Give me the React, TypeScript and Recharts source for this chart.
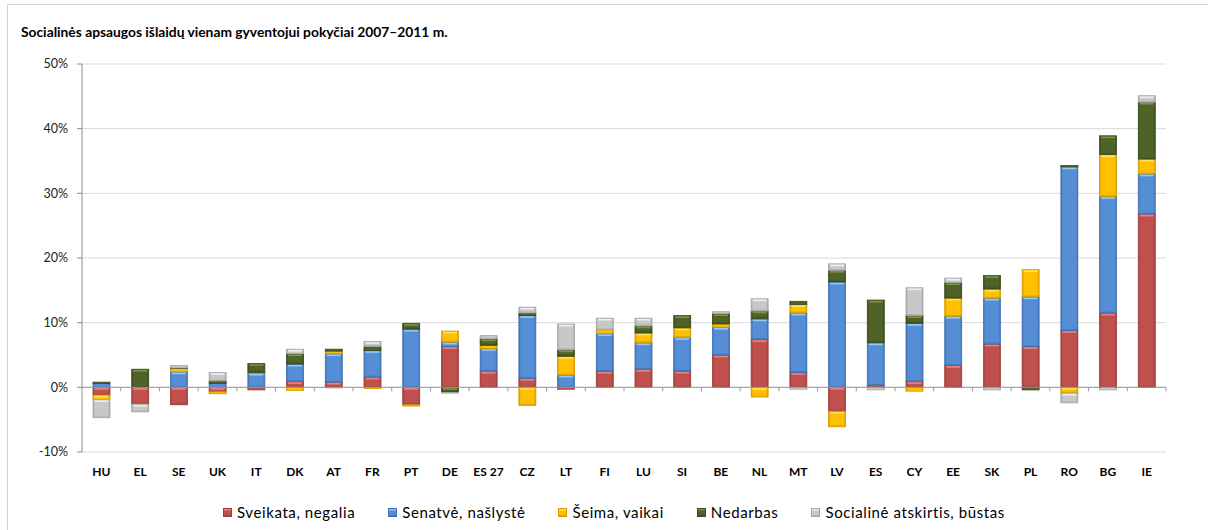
import React from "react"
import {
  BarChart,
  Bar,
  XAxis,
  YAxis,
  CartesianGrid,
  ReferenceLine,
} from "recharts"

const CATEGORIES = [
  "HU", "EL", "SE", "UK", "IT", "DK", "AT", "FR", "PT", "DE", "ES 27", "CZ", "LT", "FI",
  "LU", "SI", "BE", "NL", "MT", "LV", "ES", "CY", "EE", "SK", "PL", "RO", "BG", "IE",
]

// pokytis, %
const SVEIKATA = [
  -1.2, -2.6, -2.7, -0.7, -0.4, 0.9, 0.8, 1.6, -2.7, 6.3, 2.5, 1.4, -0.3, 2.5,
  2.8, 2.5, 5.0, 7.4, 2.3, -3.7, 0.3, 0.9, 3.4, 6.7, 6.3, 8.8, 11.5, 26.8,
]
const SENATVE = [
  0.6, 0, 2.4, 0.6, 2.2, 2.7, 4.4, 4.1, 9.0, 0.7, 3.5, 9.7, 1.9, 5.8,
  4.1, 5.2, 4.3, 3.2, 9.2, 16.3, 6.6, 9.0, 7.6, 7.1, 7.7, 25.3, 18.0, 6.2,
]
const SEIMA = [
  -0.7, 0, 0.5, -0.3, 0.1, -0.5, 0.4, -0.2, -0.2, 1.7, 0.5, -2.8, 2.9, 0.6,
  1.5, 1.5, 0.5, -1.5, 1.3, -2.4, 0, -0.6, 2.8, 1.4, 4.2, -0.9, 6.5, 2.3,
]
const NEDARBAS = [
  0.2, 2.8, 0.1, 0.4, 1.4, 1.6, 0.3, 0.6, 0.9, -0.8, 1.0, 0.4, 1.0, 0,
  1.1, 1.9, 1.6, 1.2, 0.5, 1.8, 6.6, 1.2, 2.4, 2.1, -0.4, 0.2, 2.9, 8.8,
]
const ATSKIRTIS = [
  -2.8, -1.2, 0.4, 1.3, 0, 0.7, -0.1, 0.8, 0, -0.1, 0.5, 0.9, 4.0, 1.8,
  1.2, 0, 0.3, 1.9, -0.3, 1.0, -0.4, 4.3, 0.7, -0.4, 0, -1.5, -0.4, 1.0,
]

const Y_TICKS = [-10, 0, 10, 20, 30, 40, 50]

const SERIES = [
  { key: "sveikata", name: "Sveikata, negalia", color: "#c0504d", dark: "#9c3e3b", light: "#e58c8a", values: SVEIKATA },
  { key: "senatve", name: "Senatvė, našlystė", color: "#558ed5", dark: "#3f72b3", light: "#9fd0f5", values: SENATVE },
  { key: "seima", name: "Šeima, vaikai", color: "#ffc000", dark: "#d49c00", light: "#ffe36b", values: SEIMA },
  { key: "nedarbas", name: "Nedarbas", color: "#4f6228", dark: "#3b4a1d", light: "#7f9a48", values: NEDARBAS },
  { key: "atskirtis", name: "Socialinė atskirtis, būstas", color: "#c8c8c8", dark: "#a6a6a6", light: "#f2f2f2", values: ATSKIRTIS },
]

const data = CATEGORIES.map((cat, i) => {
  const row: Record<string, string | number> = { cat }
  SERIES.forEach((s) => {
    row[s.key] = s.values[i]
  })
  return row
})

const FONT = "Lato, 'Open Sans', sans-serif"

// Excel-style bevelled segment
function BevelBar(props: any) {
  const { x, y, width, height, dark, light, gid } = props
  if (!width || !height) return null
  const top = Math.min(y, y + height)
  const h = Math.abs(height)
  if (h < 0.5) return null
  return (
    <g>
      <rect x={x} y={top} width={width} height={h} fill={`url(#${gid})`} stroke={dark} strokeWidth={0.8} />
      {h > 4 && (
        <rect x={x + 1.5} y={top + 0.8} width={width - 3} height={1.6} fill={light} opacity={0.9} />
      )}
      {h > 5 && (
        <rect x={x + 0.5} y={top + h - 1.4} width={width - 1} height={1} fill={dark} opacity={0.7} />
      )}
    </g>
  )
}

// zero axis with small tick marks between categories
function ZeroLine(props: any) {
  const { x1, y1, x2, y2 } = props
  if (x1 == null || y1 == null) return null
  const n = CATEGORIES.length
  const step = (x2 - x1) / n
  const ticks = []
  for (let i = 1; i <= n; i++) {
    const tx = x1 + step * i
    ticks.push(<line key={i} x1={tx} y1={y1} x2={tx} y2={y1 + 4} stroke="#9a9a9a" strokeWidth={1} />)
  }
  return (
    <g>
      <line x1={x1} y1={y1} x2={x2} y2={y2} stroke="#9a9a9a" strokeWidth={1} />
      {ticks}
    </g>
  )
}

function CatTick(props: any) {
  const { x, y, payload } = props
  return (
    <text x={x} y={y} dy={24} textAnchor="middle" fontFamily={FONT} fontWeight={700} fontSize={12} fill="#000">
      {payload.value}
    </text>
  )
}

export default function App() {
  return (
    <div style={{ position: "relative", width: 1208, height: 530, overflow: "hidden", background: "#fff" }}>
      <style>{`body{margin:0}`}</style>
      <div
        style={{
          position: "absolute",
          left: 7,
          top: 4,
          width: 1260,
          height: 600,
          border: "1px solid #d4d4d4",
          boxSizing: "border-box",
        }}
      />
      <div
        style={{
          position: "absolute",
          left: 21,
          top: 24,
          fontFamily: FONT,
          fontWeight: 700,
          fontSize: 13.8,
          lineHeight: "16px",
          color: "#000",
          whiteSpace: "nowrap",
        }}
      >
        Socialinės apsaugos išlaidų vienam gyventojui pokyčiai 2007–2011 m.
      </div>
      <div style={{ position: "absolute", left: 0, top: 0 }}>
        <BarChart
          width={1208}
          height={530}
          data={data}
          stackOffset="sign"
          barSize={17}
          margin={{ top: 64, right: 42, left: 22, bottom: 48 }}
        >
          <defs>
            {SERIES.map((s) => (
              <linearGradient key={s.key} id={`g-${s.key}`} x1="0" y1="0" x2="1" y2="0">
                <stop offset="0%" stopColor={s.dark} />
                <stop offset="12%" stopColor={s.color} />
                <stop offset="88%" stopColor={s.color} />
                <stop offset="100%" stopColor={s.dark} />
              </linearGradient>
            ))}
          </defs>
          <CartesianGrid vertical={false} stroke="#d9d9d9" strokeWidth={1} />
          <XAxis
            dataKey="cat"
            axisLine={false}
            tickLine={false}
            tickSize={0}
            tickMargin={0}
            height={30}
            interval={0}
            tick={<CatTick />}
          />
          <YAxis
            domain={[-10, 50]}
            ticks={Y_TICKS}
            width={60}
            tickFormatter={(v: number) => `${v}%`}
            axisLine={{ stroke: "#8c8c8c" }}
            tickLine={{ stroke: "#8c8c8c" }}
            tickSize={5}
            tickMargin={9}
            tick={{ fontFamily: FONT, fontSize: 12.5, fill: "#222" }}
          />
          {SERIES.map((s) => (
            <Bar
              key={s.key}
              dataKey={s.key}
              name={s.name}
              stackId="a"
              fill={s.color}
              isAnimationActive={false}
              shape={(p: any) => <BevelBar {...p} dark={s.dark} light={s.light} gid={`g-${s.key}`} />}
            />
          ))}
          <ReferenceLine y={0} shape={(p: any) => <ZeroLine {...p} />} />
        </BarChart>
      </div>
      <div
        style={{
          position: "absolute",
          left: 223,
          top: 503,
          display: "flex",
          alignItems: "center",
          gap: 33,
          fontFamily: FONT,
          fontSize: 15,
          letterSpacing: 0.6,
          lineHeight: "18px",
          color: "#000",
          whiteSpace: "nowrap",
        }}
      >
        {SERIES.map((s) => (
          <div key={s.key} style={{ display: "flex", alignItems: "center" }}>
            <span
              style={{
                display: "inline-block",
                width: 9,
                height: 9,
                marginRight: 5,
                background: `linear-gradient(to bottom, ${s.light} 0%, ${s.color} 35%, ${s.color} 80%, ${s.dark} 100%)`,
                border: `1px solid ${s.dark}`,
                boxSizing: "border-box",
              }}
            />
            <span>{s.name}</span>
          </div>
        ))}
      </div>
    </div>
  )
}
